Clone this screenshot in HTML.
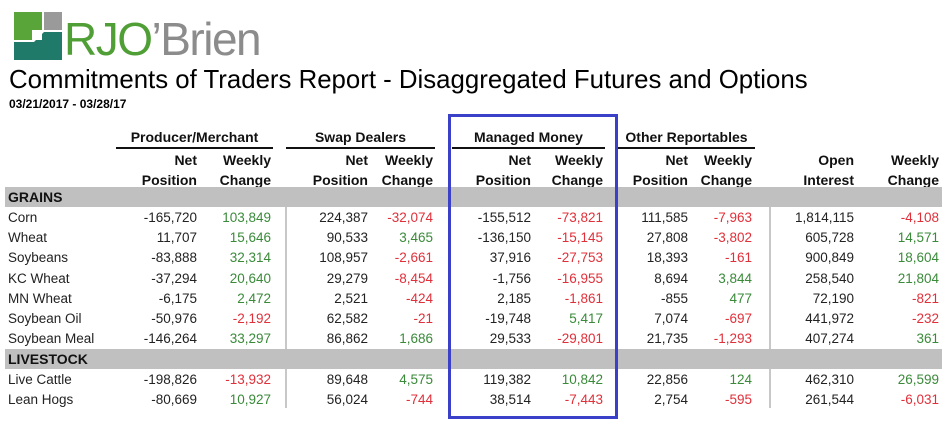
<!DOCTYPE html>
<html><head><meta charset="utf-8">
<style>
body{margin:0;width:948px;height:423px;background:#fff;position:relative;overflow:hidden;font-family:"Liberation Sans",Arial,sans-serif;color:#222}
.a{position:absolute;white-space:nowrap}
.h{font-weight:bold;font-size:14px;color:#111}
.c{font-size:13.5px;line-height:20px;height:20px}
.r{text-align:right}
.band{position:absolute;left:5px;width:937px;height:20px;background:#c0c0c0;z-index:2}
.ul{position:absolute;height:2px;background:#111}
.vl{position:absolute;width:2px;background:#c8c8c8;z-index:1}
.pos{color:#3a8a3a}.neg{color:#e0303a}
</style></head><body>
<div class="a" style="left:14px;top:12px;width:48px;height:48px">
<svg width="48" height="48" viewBox="0 0 48 48"><rect x="0" y="0" width="28" height="28" fill="#5aa53a"/><rect x="30" y="0" width="18" height="18" fill="#9a9a9a"/><polygon points="0,30 20,30 30,20 48,20 48,48 0,48" fill="#1f7a6a"/><rect x="18" y="18" width="10" height="10" fill="#fff"/></svg></div>
<div class="a" style="left:64px;top:14px;font-size:46px;line-height:50px;letter-spacing:-1.5px"><span style="color:#4f9f36">RJO</span><span style="color:#8c8c8c">’Brien</span></div>
<div class="a" style="left:9px;top:65px;font-size:25.8px;line-height:30px;color:#000">Commitments of Traders Report - Disaggregated Futures and Options</div>
<div class="a" style="left:9px;top:97px;font-size:12px;font-weight:bold;color:#000">03/21/2017 - 03/28/17</div>

<div class="a h" style="left:116px;width:157px;top:129px;text-align:center">Producer/Merchant</div>
<div class="ul" style="left:116px;width:157px;top:147px"></div>
<div class="a h" style="left:286px;width:149px;top:129px;text-align:center">Swap Dealers</div>
<div class="ul" style="left:286px;width:149px;top:147px"></div>
<div class="a h" style="left:452px;width:153px;top:129px;text-align:center">Managed Money</div>
<div class="ul" style="left:452px;width:153px;top:147px"></div>
<div class="a h" style="left:618px;width:137px;top:129px;text-align:center">Other Reportables</div>
<div class="ul" style="left:618px;width:137px;top:147px"></div>

<div class="band" style="top:187px"></div>
<div class="a h" style="left:8px;top:189px;z-index:3">GRAINS</div>
<div class="band" style="top:349px"></div>
<div class="a h" style="left:8px;top:351px;z-index:3">LIVESTOCK</div>

<div class="vl" style="left:285px;top:207px;height:201px"></div>
<div class="vl" style="left:769px;top:207px;height:201px"></div>

<div class="a" style="left:448px;top:114px;width:164px;height:299px;border:3px solid #3b40c8;z-index:4"></div>

<div id="tbl"></div>
<script>
const commodities=["Corn","Wheat","Soybeans","KC Wheat","MN Wheat","Soybean Oil","Soybean Meal","Live Cattle","Lean Hogs"];
const prodNet=[-165720,11707,-83888,-37294,-6175,-50976,-146264,-198826,-80669];
const prodChg=[103849,15646,32314,20640,2472,-2192,33297,-13932,10927];
const swapNet=[224387,90533,108957,29279,2521,62582,86862,89648,56024];
const swapChg=[-32074,3465,-2661,-8454,-424,-21,1686,4575,-744];
const mmNet=[-155512,-136150,37916,-1756,2185,-19748,29533,119382,38514];
const mmChg=[-73821,-15145,-27753,-16955,-1861,5417,-29801,10842,-7443];
const othNet=[111585,27808,18393,8694,-855,7074,21735,22856,2754];
const othChg=[-7963,-3802,-161,3844,477,-697,-1293,124,-595];
const openInt=[1814115,605728,900849,258540,72190,441972,407274,462310,261544];
const oiChg=[-4108,14571,18604,21804,-821,-232,361,26599,-6031];
const headers=[["Net","Position"],["Weekly","Change"],["Net","Position"],["Weekly","Change"],["Net","Position"],["Weekly","Change"],["Net","Position"],["Weekly","Change"],["Open","Interest"],["Weekly","Change"]];
const series=[prodNet,prodChg,swapNet,swapChg,mmNet,mmChg,othNet,othChg,openInt,oiChg];
const colored=[false,true,false,true,false,true,false,true,false,true];
const rightEdge=[197,271,368,433,531,603,688,752,854,939];
const rowTop=[208,228,248,269,289,309,329,370,390];
const fmt=v=>(v<0?"-":"")+Math.abs(v).toLocaleString("en-US");
const t=document.getElementById("tbl");
headers.forEach((h,i)=>{
  const d=document.createElement("div");
  d.className="a h r";
  d.style.cssText="left:"+(rightEdge[i]-90)+"px;width:90px;top:150px;line-height:20px";
  d.innerHTML=h[0]+"<br>"+h[1];
  
  
  t.appendChild(d);
});
commodities.forEach((name,r)=>{
  const l=document.createElement("div");
  l.className="a c";
  l.style.cssText="left:8px;top:"+rowTop[r]+"px";
  l.textContent=name;
  
  
  t.appendChild(l);
  series.forEach((s,i)=>{
    const v=s[r];
    const d=document.createElement("div");
    d.className="a c r"+(colored[i]?(v<0?" neg":" pos"):"");
    d.style.cssText="left:"+(rightEdge[i]-90)+"px;width:90px;top:"+rowTop[r]+"px";
    d.textContent=fmt(v);
    
    
    t.appendChild(d);
  });
});
</script>
</body></html>
